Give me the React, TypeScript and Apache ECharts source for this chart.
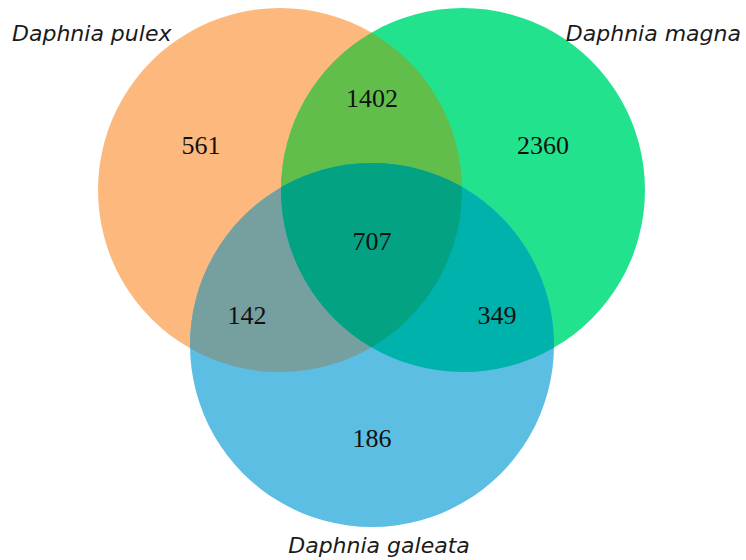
import React, { useEffect, useRef } from 'react';
import * as echarts from 'echarts';

// Sets (circle centres and radii in chart data units)
const setNames = ['Daphnia pulex', 'Daphnia magna', 'Daphnia galeata'];
const setCenterX = [280, 463, 372];
const setCenterY = [190, 190, 345];
const setRadius = [182, 182, 182];
const setLabelX = [12, 741, 379];
const setLabelY = [33, 33, 545];

// Regions: which sets each region belongs to, and its count
const regionKeys = ['0', '1', '2', '01', '02', '12', '012'];
const regionCounts = [561, 2360, 186, 1402, 142, 349, 707];
const regionLabelX = [201, 543, 372, 372, 247, 497, 372];
const regionLabelY = [145, 145, 438, 98, 315, 315, 241];

const regionColors = ['#FDB97D', '#22E28E', '#5BBEE2', '#61BE4B', '#769F9F', '#00B2AC', '#03A283'];
const setLabelAlign = ['left', 'right', 'center'];

type C = { x: number; y: number; r: number };
type P = [number, number];

function intersect(a: C, b: C): P[] {
  const dx = b.x - a.x;
  const dy = b.y - a.y;
  const d = Math.sqrt(dx * dx + dy * dy);
  const l = (a.r * a.r - b.r * b.r + d * d) / (2 * d);
  const h = Math.sqrt(Math.max(0, a.r * a.r - l * l));
  const px = a.x + (l * dx) / d;
  const py = a.y + (l * dy) / d;
  return [
    [px - (h * dy) / d, py + (h * dx) / d],
    [px + (h * dy) / d, py - (h * dx) / d],
  ];
}

function inside(p: P, c: C) {
  return Math.hypot(p[0] - c.x, p[1] - c.y) < c.r + 0.5;
}

function cwDelta(c: C, from: P, to: P) {
  const a1 = Math.atan2(from[1] - c.y, from[0] - c.x);
  const a2 = Math.atan2(to[1] - c.y, to[0] - c.x);
  let d = a2 - a1;
  while (d < 0) d += Math.PI * 2;
  while (d >= Math.PI * 2) d -= Math.PI * 2;
  return { a1, d };
}

function arcSeg(c: C, from: P, to: P) {
  const { d } = cwDelta(c, from, to);
  const large = d > Math.PI ? 1 : 0;
  return `A ${c.r} ${c.r} 0 ${large} 1 ${to[0]} ${to[1]}`;
}

function lensPath(a: C, b: C) {
  let [p, q] = intersect(a, b);
  const { a1, d } = cwDelta(a, p, q);
  const mid: P = [a.x + a.r * Math.cos(a1 + d / 2), a.y + a.r * Math.sin(a1 + d / 2)];
  if (!inside(mid, b)) {
    const t = p;
    p = q;
    q = t;
  }
  return `M ${p[0]} ${p[1]} ${arcSeg(a, p, q)} ${arcSeg(b, q, p)} Z`;
}

function triplePath(cs: C[]) {
  const pairs: [number, number, number][] = [
    [0, 1, 2],
    [0, 2, 1],
    [1, 2, 0],
  ];
  const verts = pairs.map(([i, j, k]) => {
    const pts = intersect(cs[i], cs[j]);
    const p = inside(pts[0], cs[k]) ? pts[0] : pts[1];
    return { p, on: [i, j] };
  });
  const cx = verts.reduce((s, v) => s + v.p[0], 0) / 3;
  const cy = verts.reduce((s, v) => s + v.p[1], 0) / 3;
  verts.sort((u, v) => Math.atan2(u.p[1] - cy, u.p[0] - cx) - Math.atan2(v.p[1] - cy, v.p[0] - cx));
  let path = `M ${verts[0].p[0]} ${verts[0].p[1]} `;
  for (let n = 0; n < 3; n++) {
    const v1 = verts[n];
    const v2 = verts[(n + 1) % 3];
    const common = v1.on.find((c) => v2.on.indexOf(c) >= 0) as number;
    path += arcSeg(cs[common], v1.p, v2.p) + ' ';
  }
  return path + 'Z';
}

export default function App() {
  const ref = useRef<HTMLDivElement>(null);

  useEffect(() => {
    document.body.style.margin = '0';
    if (!ref.current) return;
    const chart = echarts.init(ref.current, undefined, { renderer: 'svg' });

    const getCircles = (api: any): C[] =>
      setCenterX.map((x, i) => {
        const c = api.coord([x, setCenterY[i]]);
        const s = api.size([setRadius[i], setRadius[i]]);
        return { x: c[0], y: c[1], r: Math.abs(s[0]) };
      });

    chart.setOption({
      animation: false,
      backgroundColor: '#ffffff',
      grid: { left: 0, right: 0, top: 0, bottom: 0 },
      xAxis: { type: 'value', min: 0, max: 746, show: false },
      yAxis: { type: 'value', min: 0, max: 560, inverse: true, show: false },
      series: [
        {
          type: 'custom',
          silent: true,
          data: regionKeys.map((k, i) => [regionLabelX[i], regionLabelY[i], regionCounts[i]]),
          renderItem: (params: any, api: any) => {
            const cs = getCircles(api);
            const key = regionKeys[params.dataIndex];
            const fill = regionColors[params.dataIndex];
            if (key.length === 1) {
              const c = cs[Number(key)];
              return { type: 'circle', shape: { cx: c.x, cy: c.y, r: c.r }, style: { fill } };
            }
            if (key.length === 2) {
              return {
                type: 'path',
                shape: { pathData: lensPath(cs[Number(key[0])], cs[Number(key[1])]) },
                style: { fill },
              };
            }
            return { type: 'path', shape: { pathData: triplePath(cs) }, style: { fill } };
          },
        },
        {
          type: 'custom',
          silent: true,
          data: regionKeys.map((k, i) => [regionLabelX[i], regionLabelY[i], regionCounts[i]]),
          renderItem: (params: any, api: any) => {
            const p = api.coord([api.value(0), api.value(1)]);
            return {
              type: 'text',
              x: p[0],
              y: p[1],
              style: {
                text: String(api.value(2)),
                fontFamily: '"Liberation Serif", "Times New Roman", serif',
                fontSize: 26,
                fill: '#111111',
                align: 'center',
                verticalAlign: 'middle',
              },
            };
          },
        },
        {
          type: 'custom',
          silent: true,
          data: setNames.map((n, i) => [setLabelX[i], setLabelY[i]]),
          renderItem: (params: any, api: any) => {
            const p = api.coord([api.value(0), api.value(1)]);
            return {
              type: 'text',
              x: p[0],
              y: p[1],
              style: {
                text: setNames[params.dataIndex],
                fontFamily: '"DejaVu Sans", Verdana, sans-serif',
                fontStyle: 'italic',
                fontSize: 22,
                fill: '#1a1a1a',
                align: setLabelAlign[params.dataIndex],
                verticalAlign: 'middle',
              },
            };
          },
        },
      ],
    });

    return () => chart.dispose();
  }, []);

  return <div ref={ref} style={{ width: 746, height: 560 }} />;
}
